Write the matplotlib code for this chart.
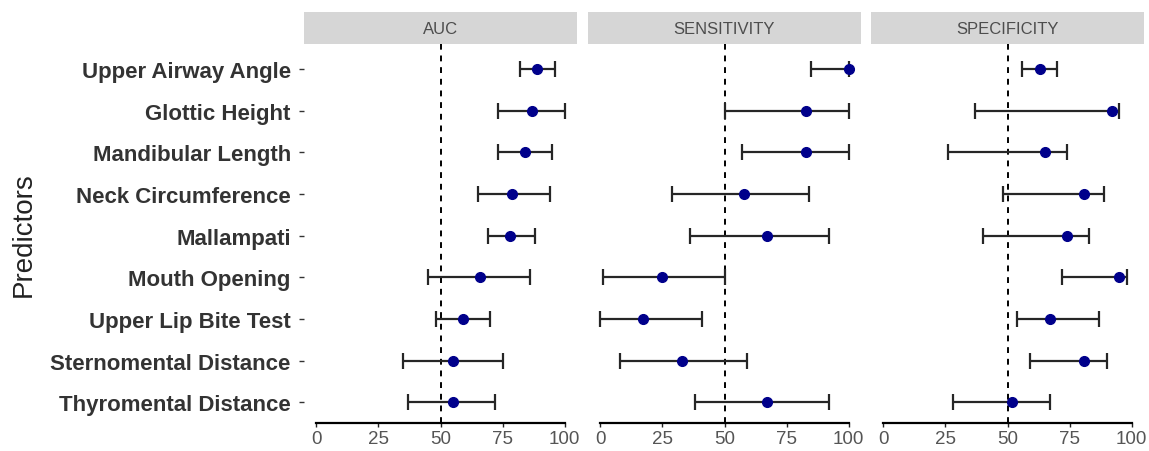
import numpy as np
import matplotlib
matplotlib.use("Agg")
import matplotlib.pyplot as plt

plt.rcParams['font.family'] = ['Liberation Sans', 'DejaVu Sans']

# Predictors, top to bottom
predictors = ["Upper Airway Angle", "Glottic Height", "Mandibular Length",
              "Neck Circumference", "Mallampati", "Mouth Opening",
              "Upper Lip Bite Test", "Sternomental Distance",
              "Thyromental Distance"]

# Estimates with lower / upper confidence limits (percent)
auc = [89, 87, 84, 79, 78, 66, 59, 55, 55]
auc_lo = [82, 73, 73, 65, 69, 45, 48, 35, 37]
auc_hi = [96, 100, 95, 94, 88, 86, 70, 75, 72]

sens = [100, 83, 83, 58, 67, 25, 17, 33, 67]
sens_lo = [85, 50, 57, 29, 36, 1, 0, 8, 38]
sens_hi = [100, 100, 100, 84, 92, 50, 41, 59, 92]

spec = [63, 92, 65, 81, 74, 95, 67, 81, 52]
spec_lo = [56, 37, 26, 48, 40, 72, 54, 59, 28]
spec_hi = [70, 95, 74, 89, 83, 98, 87, 90, 67]

panels = [("AUC", auc, auc_lo, auc_hi),
          ("SENSITIVITY", sens, sens_lo, sens_hi),
          ("SPECIFICITY", spec, spec_lo, spec_hi)]

W, H = 1149, 452
fig = plt.figure(figsize=(W / 100, H / 100), dpi=100)

lefts = [304, 588, 871]
pw = 273
ptop, pbot = 45, 424
strip_top = 13

y = np.arange(1, len(predictors) + 1)

for i, (name, est, lo, hi) in enumerate(panels):
    ax = fig.add_axes([lefts[i] / W, (H - pbot) / H, pw / W, (pbot - ptop) / H])
    est = np.array(est)
    err = [est - np.array(lo), np.array(hi) - est]
    ax.axvline(50, color="black", linestyle=(0, (3, 3)), linewidth=1.4, zorder=1)
    ax.errorbar(est, y, xerr=err, fmt="none", ecolor="#262626",
                elinewidth=1.6, capsize=5.5, capthick=1.6, zorder=2)
    ax.plot(est, y, "o", color="#00008B", markersize=7, zorder=3)

    ax.set_xlim(-5, 105)
    ax.set_ylim(9.5, 0.4)
    ax.set_xticks([0, 25, 50, 75, 100])
    for s in ["top", "right", "left"]:
        ax.spines[s].set_visible(False)
    ax.spines["bottom"].set_bounds(0, 100)
    ax.spines["bottom"].set_linewidth(1.6)
    ax.tick_params(axis="x", length=3, width=1, pad=2, labelsize=13.5,
                   colors="#222222", labelcolor="#555555")
    if i == 0:
        ax.set_yticks(y)
        ax.set_yticklabels(predictors, fontsize=16, fontweight="bold",
                           color="#404040")
        ax.tick_params(axis="y", length=3.5, width=1, pad=6, colors="#333333")
        ax.set_ylabel("Predictors", fontsize=20, color="#222222", labelpad=10)
    else:
        ax.set_yticks([])

    # facet strip
    sax = fig.add_axes([lefts[i] / W, (H - ptop) / H, pw / W, (ptop - strip_top) / H])
    sax.set_facecolor("#d6d6d6")
    sax.set_xticks([])
    sax.set_yticks([])
    for s in sax.spines.values():
        s.set_visible(False)
    sax.text(0.5, 0.5, name, ha="center", va="center", fontsize=12,
             color="#4d4d4d", transform=sax.transAxes)

fig.savefig("out.png", dpi=100)
